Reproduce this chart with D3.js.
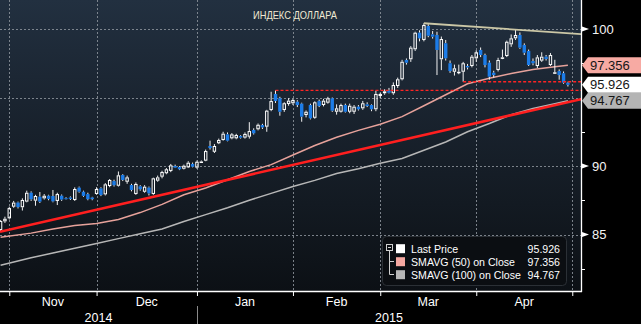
<!DOCTYPE html>
<html>
<head>
<meta charset="utf-8">
<script src="https://cdn.jsdelivr.net/npm/d3@7"></script>
<style>
  html, body { margin: 0; padding: 0; background: #000; }
  svg { display: block; }
  text { font-family: "Liberation Sans", Arial, sans-serif; }
</style>
</head>
<body>
<svg id="chart" width="641" height="324"></svg>
<script>
// ---- Data: US dollar index, daily sessions from 30 Oct 2014 ----
const chartTitle = "ИНДЕКС ДОЛЛАРА";
const firstSession = "2014-10-30";

const opens = [85.33,85.96,86.18,87.03,87.33,86.99,87.40,88.05,87.47,87.76,87.64,87.83,87.81,87.45,87.83,87.65,87.70,87.52,88.42,88.12,87.95,87.70,
  87.96,88.37,87.93,88.54,88.90,88.56,89.34,88.85,88.61,87.96,88.52,88.12,88.42,87.96,88.93,89.22,89.47,89.64,90.00,89.93,89.80,89.90,90.15,
  89.88,90.30,90.39,91.46,91.04,91.66,91.90,92.31,92.02,92.02,92.19,92.07,92.14,92.63,92.68,92.99,92.87,94.09,95.26,94.94,94.09,94.53,
  94.58,94.69,94.55,93.72,94.45,93.52,94.74,94.45,94.62,94.94,93.96,93.96,94.45,93.96,93.96,94.33,94.21,94.50,94.45,94.14,
  95.11,95.31,95.50,95.31,95.84,96.33,97.74,97.79,98.52,99.73,99.20,100.22,99.61,99.56,97.79,98.96,97.50,96.88,96.88,96.88,97.30,97.30,
  97.86,98.47,98.10,97.54,96.81,97.01,97.86,98.03,98.88,99.32,99.56,98.83,98.39,97.66,97.30,97.69,97.98,97.37,96.77,96.93,96.77,96.08];
const highs = [86.05,86.30,87.03,87.45,87.40,87.64,88.20,88.15,87.90,88.10,87.95,87.90,88.25,88.05,87.92,87.72,87.78,88.44,88.50,88.20,88.05,87.75,
  88.45,88.45,88.75,89.05,89.00,89.60,89.40,89.30,88.70,88.80,88.60,88.60,88.50,89.15,89.30,89.65,89.85,90.15,90.10,90.00,90.10,90.35,90.25,
  90.40,90.40,91.20,91.85,91.60,92.00,92.50,92.45,92.40,92.35,92.25,92.45,93.20,92.75,93.10,93.08,94.10,95.42,95.52,95.05,94.65,94.95,
  94.90,94.80,94.62,94.05,94.55,94.72,94.85,94.90,95.05,95.00,94.50,94.55,94.55,94.55,94.45,94.45,94.75,94.65,94.50,95.50,
  95.35,95.60,95.70,96.10,96.45,97.75,97.85,98.75,99.80,99.90,100.42,100.35,99.85,99.80,99.45,99.20,97.70,97.40,97.40,97.60,97.45,98.10,
  98.45,98.65,98.20,97.70,96.95,97.90,98.50,99.15,99.60,99.93,99.75,98.95,98.50,97.85,98.10,98.30,98.10,98.25,97.75,97.05,96.90,96.15];
const lows = [85.20,85.85,86.10,86.95,86.90,86.75,87.35,87.45,87.10,87.30,87.55,87.50,87.35,87.15,87.45,87.55,87.52,87.45,88.05,87.75,87.50,87.50,
  87.90,87.80,87.85,88.45,88.50,88.50,88.90,88.70,88.15,87.90,88.20,88.05,87.85,87.90,88.85,89.10,89.40,89.55,89.85,89.70,89.75,89.85,89.90,
  89.80,90.25,90.35,91.20,90.95,91.60,91.85,91.80,91.95,91.95,92.00,92.00,92.00,92.30,92.60,92.70,92.50,94.00,94.60,93.67,93.95,94.40,
  94.45,94.30,93.23,93.55,93.40,93.45,94.30,94.35,94.55,93.95,93.75,93.90,93.90,93.85,93.80,94.05,94.10,94.30,94.00,94.00,
  94.95,95.20,95.30,95.20,95.70,96.25,97.40,97.60,98.40,99.10,99.10,99.40,99.30,96.64,97.00,97.70,96.80,96.60,96.70,96.15,97.05,97.20,
  97.60,97.95,97.20,96.30,96.45,96.90,97.80,97.95,98.70,99.20,98.55,98.10,97.30,97.35,97.15,97.60,97.70,97.30,96.75,96.30,96.00,95.80];
const closes = [85.99,86.15,86.93,87.33,87.00,87.52,88.05,87.57,87.81,87.40,87.83,87.60,87.42,87.95,87.55,87.60,87.60,88.32,88.12,87.82,87.58,87.58,
  88.32,87.88,88.66,88.98,88.60,89.32,88.98,89.17,88.25,88.69,88.30,88.49,88.00,89.10,89.17,89.56,89.76,90.05,89.88,89.76,90.02,90.24,89.95,
  90.31,90.33,91.09,91.31,91.46,91.90,92.36,91.85,92.31,92.26,92.07,92.34,92.55,92.39,93.01,92.82,94.04,94.74,94.74,93.96,94.58,94.77,
  94.82,94.45,93.60,93.96,93.48,94.65,94.38,94.77,94.94,94.04,94.21,94.45,93.96,94.40,94.33,94.14,94.58,94.38,94.14,95.26,
  95.26,95.45,95.35,95.91,96.33,97.61,97.54,98.64,99.73,99.32,100.29,99.51,99.44,98.47,99.27,97.86,96.93,97.13,96.88,97.50,97.20,97.98,
  98.30,98.10,97.37,96.52,96.64,97.74,97.93,99.07,99.32,99.56,98.64,98.27,97.37,97.50,97.93,97.98,97.81,98.10,96.84,96.64,96.08,95.926];

// Moving averages on close, sampled weekly
const smaDates = ["2014-10-30","2014-11-10","2014-11-17","2014-11-24","2014-12-01","2014-12-08","2014-12-15","2014-12-22","2014-12-29",
  "2015-01-05","2015-01-12","2015-01-19","2015-01-26","2015-02-02","2015-02-09","2015-02-16","2015-02-23","2015-03-02","2015-03-09",
  "2015-03-16","2015-03-23","2015-03-30","2015-04-06","2015-04-13","2015-04-20","2015-04-27","2015-04-30"];
const sma50 = [84.80,85.10,85.40,85.65,85.80,86.10,86.60,87.20,87.90,88.40,89.00,89.60,90.10,90.80,91.50,92.10,92.60,93.05,93.60,
  94.40,95.20,96.00,96.40,96.75,97.05,97.25,97.356];
const sma100 = [82.75,83.30,83.65,84.00,84.35,84.70,85.05,85.40,85.95,86.45,86.95,87.50,88.00,88.50,88.95,89.45,89.80,90.20,90.55,
  91.15,91.75,92.50,93.10,93.75,94.20,94.55,94.767];

// Hand-drawn studies
const supportTrend = [{ date: "2014-10-30", value: 85.21 }, { date: "2015-04-30", value: 94.66 }];
const resistanceTrend = [{ date: "2015-03-16", value: 100.42 }, { date: "2015-04-14", value: 99.96 }];
const supportLevels = [{ date: "2015-01-27", value: 95.52 }, { date: "2015-03-27", value: 96.15 }];

const legendNames = ["Last Price", "SMAVG (50) on Close", "SMAVG (100) on Close"];
const legendColors = ["#ffffff", "#f5a8a1", "#b7b7b7"];
const gridValues = [85, 90, 95, 100];
const labelValues = [85, 90, 100];
const minorValues = [82.5, 87.5, 92.5, 97.5];

// ---- Layout ----
const W = 641, H = 324, plotW = 581, plotH = 291;
const svg = d3.select("#chart");
const defs = svg.append("defs");
const grad = defs.append("linearGradient").attr("id", "bg")
  .attr("x1", 0).attr("y1", 0).attr("x2", 0).attr("y2", 1);
[[0, "#223040"], [0.35, "#1a2430"], [0.7, "#131a22"], [1, "#0c1015"]]
  .forEach(([o, c]) => grad.append("stop").attr("offset", o).attr("stop-color", c));
defs.append("clipPath").attr("id", "plotClip")
  .append("rect").attr("width", plotW).attr("height", plotH);

svg.append("rect").attr("width", W).attr("height", H).attr("fill", "#000");
svg.append("rect").attr("width", plotW).attr("height", plotH).attr("fill", "url(#bg)");

// Trading sessions (weekdays)
const parse = d3.utcParse("%Y-%m-%d");
const fmt = d3.utcFormat("%Y-%m-%d");
const sessions = [];
for (let d = parse(firstSession); sessions.length < 135; d = d3.utcDay.offset(d, 1)) {
  const wd = d.getUTCDay();
  if (wd !== 0 && wd !== 6) sessions.push(d);
}
const idx = new Map(sessions.map((d, i) => [fmt(d), i]));

const x = d3.scaleLinear().domain([-0.13, 133]).range([0, plotW]);
const y = d3.scaleLinear().domain([85, 100]).range([234.5, 29]);

const monthStarts = [];
sessions.forEach((d, i) => {
  if (i > 0 && d.getUTCMonth() !== sessions[i - 1].getUTCMonth() && x(i) <= plotW) monthStarts.push(i);
});

// Grid
const grid = svg.append("g").attr("stroke", "#8d949c").attr("stroke-width", 1)
  .attr("stroke-dasharray", "2,2").attr("opacity", 0.85);
grid.selectAll("line.h").data(gridValues).join("line")
  .attr("x1", 0).attr("x2", plotW)
  .attr("y1", d => Math.round(y(d)) + 0.5).attr("y2", d => Math.round(y(d)) + 0.5);
grid.selectAll("line.v").data(monthStarts).join("line")
  .attr("x1", d => Math.round(x(d)) + 0.5).attr("x2", d => Math.round(x(d)) + 0.5)
  .attr("y1", 0).attr("y2", plotH);

const plot = svg.append("g").attr("clip-path", "url(#plotClip)");

// Moving averages
const smaLine = d3.line().x(d => x(idx.get(d[0]))).y(d => y(d[1]));
plot.append("path").datum(d3.zip(smaDates, sma100)).attr("d", smaLine)
  .attr("fill", "none").attr("stroke", legendColors[2]).attr("stroke-width", 1.5);
plot.append("path").datum(d3.zip(smaDates, sma50)).attr("d", smaLine)
  .attr("fill", "none").attr("stroke", "#e7a29b").attr("stroke-width", 1.5);

// Candles
const candles = opens.map((o, i) => ({ i, o, h: highs[i], l: lows[i], c: closes[i] }));
const bodyW = 3.4;
const cg = plot.append("g");
candles.forEach(d => {
  const cx = x(d.i);
  const top = y(Math.max(d.o, d.c)), bot = Math.max(y(Math.min(d.o, d.c)), top + 1);
  cg.append("line").attr("x1", cx).attr("x2", cx).attr("y1", y(d.h)).attr("y2", top)
    .attr("stroke", "#f2f2f2").attr("stroke-width", 1);
  cg.append("line").attr("x1", cx).attr("x2", cx).attr("y1", bot).attr("y2", y(d.l))
    .attr("stroke", "#f2f2f2").attr("stroke-width", 1);
  if (d.c >= d.o) {
    cg.append("rect").attr("x", cx - bodyW / 2 + 0.5).attr("width", bodyW - 1)
      .attr("y", top + 0.5).attr("height", Math.max(bot - top - 1, 0.5))
      .attr("fill", "none").attr("stroke", "#ffffff").attr("stroke-width", 1);
  } else {
    cg.append("rect").attr("x", cx - bodyW / 2).attr("width", bodyW)
      .attr("y", top).attr("height", bot - top).attr("fill", "#1c7ce8");
  }
});

// Trend lines, extended across the chart
function extend(a, b, x0i, x1i) {
  const ia = idx.get(a.date), ib = idx.get(b.date);
  const slope = (b.value - a.value) / (ib - ia);
  return [[x0i, a.value + slope * (x0i - ia)], [x1i, a.value + slope * (x1i - ia)]];
}
const [dMin, dMax] = x.domain();
const sup = extend(supportTrend[0], supportTrend[1], dMin, dMax);
plot.append("line")
  .attr("x1", x(sup[0][0])).attr("y1", y(sup[0][1])).attr("x2", x(sup[1][0])).attr("y2", y(sup[1][1]))
  .attr("stroke", "#ff1f1f").attr("stroke-width", 2.6);
const res = extend(resistanceTrend[0], resistanceTrend[1], idx.get(resistanceTrend[0].date), dMax);
plot.append("line")
  .attr("x1", x(res[0][0])).attr("y1", y(res[0][1])).attr("x2", x(res[1][0])).attr("y2", y(res[1][1]))
  .attr("stroke", "#cbc7a6").attr("stroke-width", 1.8);
plot.selectAll("line.lvl").data(supportLevels).join("line")
  .attr("x1", d => x(idx.get(d.date))).attr("x2", plotW)
  .attr("y1", d => y(d.value)).attr("y2", d => y(d.value))
  .attr("stroke", "#ff2424").attr("stroke-width", 1.3).attr("stroke-dasharray", "3,2");

// Legend
const lg = svg.append("g");
lg.append("rect").attr("x", 382.5).attr("y", 236.5).attr("width", 184).attr("height", 49).attr("rx", 4)
  .attr("fill", "#0b0e12").attr("stroke", "#2b3036");
lg.append("rect").attr("x", 386.5).attr("y", 244.5).attr("width", 6).attr("height", 6)
  .attr("fill", "none").attr("stroke", "#d0d0d0");
lg.append("line").attr("x1", 388).attr("x2", 391).attr("y1", 247.5).attr("y2", 247.5).attr("stroke", "#d0d0d0");
lg.append("path").attr("d", "M389.5,251 V274.5 H394 M389.5,261.5 H394")
  .attr("fill", "none").attr("stroke", "#d0d0d0");
const lastVals = [closes[closes.length - 1], sma50[sma50.length - 1], sma100[sma100.length - 1]];
legendNames.forEach((name, i) => {
  const base = 252.7 + i * 13;
  lg.append("rect").attr("x", 396).attr("y", base - 8.5).attr("width", 9).attr("height", 9).attr("fill", legendColors[i]);
  lg.append("text").attr("x", 411).attr("y", base).attr("fill", "#fff").attr("font-size", 10.6).text(name);
  lg.append("text").attr("x", 560).attr("y", base).attr("fill", "#fff").attr("font-size", 10.6)
    .attr("text-anchor", "end").text(d3.format(".3f")(lastVals[i]));
});

// Axes
const axisCol = "#ffffff";
svg.append("line").attr("x1", plotW + 0.5).attr("x2", plotW + 0.5).attr("y1", 0).attr("y2", plotH + 1)
  .attr("stroke", axisCol).attr("stroke-width", 1.3);
svg.append("line").attr("x1", 0).attr("x2", plotW + 1).attr("y1", plotH + 0.5).attr("y2", plotH + 0.5)
  .attr("stroke", axisCol).attr("stroke-width", 1.3);

const yAxis = svg.append("g").attr("transform", `translate(${plotW},0)`)
  .call(d3.axisRight(y).tickValues(labelValues).tickSize(0).tickPadding(11).tickFormat(d3.format("d")));
yAxis.select(".domain").remove();
yAxis.selectAll("text").attr("fill", "#f4f4f4").attr("font-size", 13)
  .attr("font-family", "'Liberation Sans', Arial, sans-serif");
svg.selectAll("path.ytri").data(labelValues).join("path")
  .attr("d", d => `M${plotW + 1},${y(d) - 2.6} L${plotW + 8},${y(d)} L${plotW + 1},${y(d) + 2.6} Z`)
  .attr("fill", axisCol);
svg.selectAll("line.ymin").data(minorValues).join("line")
  .attr("x1", plotW).attr("x2", plotW + 4)
  .attr("y1", d => Math.round(y(d)) + 0.5).attr("y2", d => Math.round(y(d)) + 0.5)
  .attr("stroke", axisCol);

const xAxis = svg.append("g").attr("transform", `translate(0,${plotH})`)
  .call(d3.axisBottom(x).tickValues(monthStarts).tickSize(5).tickFormat(""));
xAxis.select(".domain").remove();
xAxis.selectAll("line").attr("stroke", axisCol);

const monthFmt = d3.utcFormat("%b");
const monthBounds = monthStarts.slice();
svg.selectAll("text.month").data(d3.pairs(monthBounds)).join("text")
  .attr("x", d => (x(d[0]) + x(d[1])) / 2).attr("y", 305.5)
  .attr("text-anchor", "middle").attr("fill", "#fff").attr("font-size", 12.5)
  .text(d => monthFmt(sessions[d[0]]));

const yearStart = monthStarts.find(i => sessions[i].getUTCMonth() === 0);
const years = [
  { label: d3.utcFormat("%Y")(sessions[0]), x0: 0, x1: x(yearStart) },
  { label: d3.utcFormat("%Y")(sessions[yearStart]), x0: x(yearStart), x1: plotW }
];
svg.selectAll("text.year").data(years).join("text")
  .attr("x", d => (d.x0 + d.x1) / 2).attr("y", 322)
  .attr("text-anchor", "middle").attr("fill", "#fff").attr("font-size", 12.5)
  .text(d => d.label);
svg.append("line").attr("x1", Math.round(x(yearStart)) + 0.5).attr("x2", Math.round(x(yearStart)) + 0.5)
  .attr("y1", 306).attr("y2", H).attr("stroke", "#8a8a8a");

// Last-value tags on the price axis
const tagOrder = [2, 0, 1];
const tagFill = ["#ffffff", "#f7aaa3", "#b4b4b4"];
tagOrder.forEach(i => {
  const v = lastVals[i], ty = y(v);
  svg.append("path")
    .attr("d", `M${plotW + 1},${ty} L${plotW + 7},${ty - 8} H${W} V${ty + 8} H${plotW + 7} Z`)
    .attr("fill", tagFill[i]);
  svg.append("text").attr("x", plotW + 9).attr("y", ty + 4.6)
    .attr("fill", "#161616").attr("font-size", 13).text(d3.format(".3f")(v));
});

// Title
svg.append("text").attr("x", 253).attr("y", 19).attr("fill", "#efe9d3").attr("font-size", 11)
  .attr("textLength", 84).attr("lengthAdjust", "spacingAndGlyphs").text(chartTitle);
</script>
</body>
</html>
